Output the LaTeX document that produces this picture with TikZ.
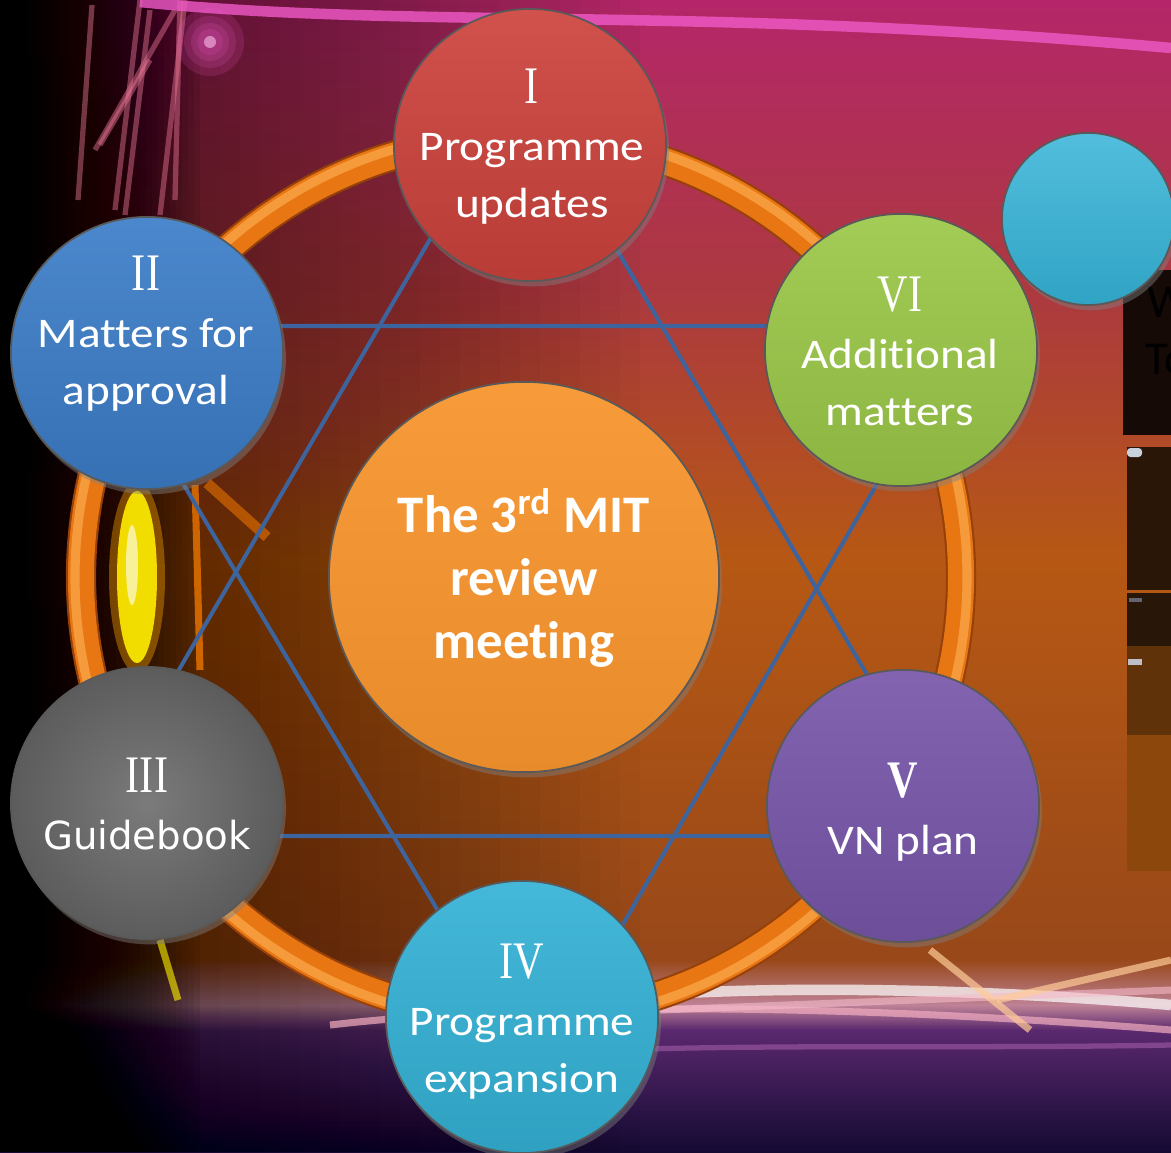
\documentclass[tikz,border=0pt]{standalone}
\usepackage{fontspec}
\setmainfont{Carlito}[Ligatures=CommonOff]
\newfontfamily\bubfont{Carlito}[FakeStretch=1.12, Ligatures=CommonOff]
\newfontfamily\numfont{Liberation Serif}[FakeStretch=0.8]
\newfontfamily\guidefont{DejaVu Sans}
\usetikzlibrary{shadows}

\definecolor{updred}{RGB}{205,66,60}
\definecolor{apprblue}{RGB}{60,125,200}
\definecolor{addgreen}{RGB}{155,200,72}
\definecolor{guidegray}{RGB}{108,108,108}
\definecolor{planpurple}{RGB}{120,86,170}
\definecolor{expcyan}{RGB}{52,178,214}
\definecolor{hubor}{RGB}{247,148,45}
\definecolor{ringor}{RGB}{232,118,18}
\definecolor{ringhi}{RGB}{250,165,70}
\definecolor{ringdk}{RGB}{150,65,10}
\definecolor{starblue}{RGB}{62,100,158}
\definecolor{raypink}{RGB}{235,120,150}
\definecolor{glowpink}{RGB}{240,90,200}
% background
\definecolor{bga}{RGB}{180,38,105}
\definecolor{bgb}{RGB}{172,58,62}
\definecolor{bgc}{RGB}{182,88,20}
\definecolor{bgd}{RGB}{152,72,25}
\definecolor{bge}{RGB}{190,130,150}
\definecolor{bgf}{RGB}{90,40,110}
\definecolor{bgg}{RGB}{20,10,50}
% slide behind
\definecolor{pana}{RGB}{22,10,6}
\definecolor{panb}{RGB}{42,22,6}
\definecolor{panc}{RGB}{40,22,8}
\definecolor{pand}{RGB}{95,50,10}
\definecolor{pane}{RGB}{140,72,12}
\definecolor{marka}{RGB}{200,210,220}
\definecolor{markb}{RGB}{100,100,110}
\definecolor{markc}{RGB}{190,190,200}

\tikzset{
  bubble/.style={circle, inner sep=0pt, minimum size=2.72cm, draw=black!65, line width=0.5pt,
    drop shadow={opacity=0.45, shadow xshift=0.8pt, shadow yshift=-1.5pt}},
  bubtext/.style={text=white, align=center, inner sep=0pt, font=\bubfont\fontsize{12}{16.2}\selectfont},
  starline/.style={draw=starblue, line width=1.15pt},
  ray/.style={line width=1.5pt, opacity=0.45},
}
\newcommand{\rn}[1]{{\numfont\fontsize{15}{16.2}\selectfont #1}}

\begin{document}
\begin{tikzpicture}[x=0.01cm, y=-0.01cm]
\useasboundingbox (0,0) rectangle (1171,1152);

% background bands
\shade[top color=bga, bottom color=bgb] (0,0) rectangle (1171,300);
\shade[top color=bgb, bottom color=bgc] (0,300) rectangle (1171,560);
\shade[top color=bgc, bottom color=bgd] (0,560) rectangle (1171,960);
\shade[top color=bgd, bottom color=bge] (0,960) rectangle (1171,1005);
\shade[top color=bge, bottom color=bgf] (0,1005) rectangle (1171,1030);
\shade[top color=bgf, bottom color=bgg] (0,1030) rectangle (1171,1152);
% dark left side
\foreach \w in {20,26,...,200}
  \fill[black, opacity=0.06] (0,0) rectangle (\w,1152);
\foreach \w in {200,220,...,640}
  \fill[black, opacity=0.025] (0,0) rectangle (\w,1152);

% lights
\draw[ray, raypink] (78,200) -- (92,5);
\draw[ray, raypink] (115,210) -- (140,0);
\draw[ray, raypink] (125,215) -- (150,10);
\draw[ray, raypink] (160,215) -- (185,0);
\draw[ray, raypink] (175,200) -- (180,0);
\draw[ray, raypink] (95,150) -- (175,10);
\draw[ray, raypink] (100,145) -- (150,60);
\foreach \r in {34,26,19,13}
  \fill[glowpink, opacity=0.16] (210,42) circle [radius=\r];
\fill[glowpink!40!white, opacity=0.6] (210,42) circle [radius=6];
\draw[glowpink, line width=3pt, opacity=0.8] (140,2) .. controls (420,30) and (700,5) .. (1171,48);
\fill[orange!70!yellow, opacity=0.4] (137,577) ellipse [x radius=28, y radius=96];
\fill[yellow!95!orange, opacity=0.9] (137,577) ellipse [x radius=20, y radius=86];
\fill[white, opacity=0.6] (132,565) ellipse [x radius=6, y radius=40];
\draw[orange, line width=2pt, opacity=0.7] (195,485) -- (200,670);
\draw[orange, line width=3pt, opacity=0.5] (207,483) -- (267,537);
\draw[yellow, line width=2pt, opacity=0.6] (160,940) -- (178,1000);
\draw[white, line width=3pt, opacity=0.7] (650,995) .. controls (800,985) and (1000,990) .. (1171,1005);
\draw[raypink!60!white, line width=2pt, opacity=0.7] (330,1025) .. controls (500,1005) and (800,1000) .. (1171,1030);
\draw[raypink!50!white, line width=2pt, opacity=0.6] (660,1010) -- (1171,990);
\draw[violet!60!white, line width=1.5pt, opacity=0.5] (400,1060) .. controls (700,1040) and (900,1050) .. (1171,1045);
\draw[orange!40!white, line width=2pt, opacity=0.7] (930,950) -- (1030,1030);
\draw[orange!40!white, line width=2pt, opacity=0.7] (997,1000) -- (1171,960);

% slide behind, right edge
\fill[pana] (1123,270) rectangle (1171,435);
\fill[panb] (1127,447) rectangle (1171,590);
\fill[panc] (1127,593) rectangle (1171,646);
\fill[pand] (1127,646) rectangle (1171,735);
\fill[pane] (1127,735) rectangle (1171,871);
\fill[marka, rounded corners=1pt] (1127,448) rectangle (1142,457);
\fill[markb] (1129,598) rectangle (1142,602);
\fill[markc] (1128,659) rectangle (1142,665);
\node[anchor=base west, inner sep=0pt, font=\fontsize{13.4}{16}\selectfont] (panw) at (1147,317) {W};
\node[anchor=base west, inner sep=0pt, font=\fontsize{13.4}{16}\selectfont] (pant) at (1145,374) {To};

% ring
\coordinate (ringc) at (521,577);
\draw[ringdk, line width=8.6pt] (ringc) circle [radius=440];
\draw[ringor, line width=7.4pt] (ringc) circle [radius=440];
\draw[ringhi, line width=2.6pt, opacity=0.8] (ringc) circle [radius=446];

% star
\coordinate (ta) at (520,85);
\coordinate (tb) at (82,836);
\coordinate (tc) at (962,836);
\coordinate (sa) at (89,326);
\coordinate (sb) at (968,326);
\coordinate (sc) at (536,1075);
\draw[starline] (ta) -- (tb) -- (tc) -- cycle;
\draw[starline] (sa) -- (sb) -- (sc) -- cycle;

% bubbles
\node[bubble, minimum size=1.72cm, top color=expcyan!85!white, bottom color=expcyan!92!black] (spare) at (1088,219) {};
\node[bubble, minimum size=3.9cm, top color=hubor!94!white, bottom color=hubor!94!black] (hub) at (524,577) {};
\node[bubble, top color=updred!92!white, bottom color=updred!90!black] (upd) at (530,145) {};
\node[bubble, top color=apprblue!92!white, bottom color=apprblue!90!black] (appr) at (147,353) {};
\node[bubble, top color=addgreen!92!white, bottom color=addgreen!90!black] (add) at (901,350) {};
\node[bubble, inner color=guidegray!90!white, outer color=guidegray!85!black] (guide) at (147,803) {};
\node[bubble, top color=planpurple!92!white, bottom color=planpurple!90!black] (plan) at (903,806) {};
\node[bubble, top color=expcyan!92!white, bottom color=expcyan!90!black] (exp) at (522,1017) {};

% texts
\node[text=white, align=center, inner sep=0pt, font=\bfseries\fontsize{15}{18}\selectfont] (hubtxt) at (524,578) {The 3\textsuperscript{rd} MIT\\review\\meeting};
\node[bubtext] (updtxt) at (532,147) {\rn{I}\\Programme\\updates};
\node[bubtext] (apprtxt) at (146,334) {\rn{II}\\Matters for\\approval};
\node[bubtext] (addtxt) at (900,351) {\rn{VI}\\Additional\\matters};
\node[bubtext] (guidetxt) at (147,804) {\rn{III}\\{\guidefont\fontsize{11}{16.2}\selectfont Guidebook}};
\node[bubtext] (plantxt) at (903,812) {\rn{\bfseries V}\\VN plan};
\node[bubtext] (exptxt) at (522,1022) {\rn{IV}\\Programme\\expansion};
\end{tikzpicture}
\end{document}
